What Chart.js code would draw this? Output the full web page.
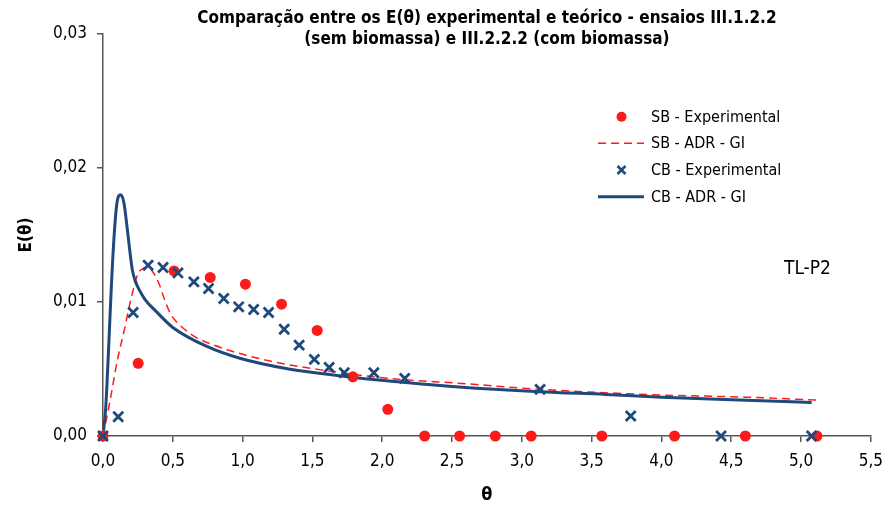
<!DOCTYPE html>
<html>
<head>
<meta charset="UTF-8">
<title>E(θ) experimental e teórico</title>
<style>
  html, body { margin: 0; padding: 0; background: #fff; }
</style>
</head>
<body>
<canvas id="myChart" width="892" height="508"></canvas>

<script src="https://cdn.jsdelivr.net/npm/chart.js@4.4.1/dist/chart.umd.min.js"></script>
<script>
// SB - experimental (sem biomassa)
var sbExpTheta = [0, 0.252, 0.509, 0.768, 1.020, 1.279, 1.534, 1.790, 2.040, 2.304, 2.554, 2.810, 3.067, 3.573, 4.094, 4.601, 5.114];
var sbExpE     = [0, 0.00542, 0.01232, 0.01183, 0.01133, 0.00984, 0.00788, 0.00442, 0.00199, 0, 0, 0, 0, 0, 0, 0, 0];

// CB - experimental (com biomassa)
var cbExpTheta = [0, 0.109, 0.216, 0.323, 0.430, 0.537, 0.651, 0.756, 0.865, 0.972, 1.079, 1.186, 1.298, 1.405, 1.514, 1.620, 1.728, 1.940, 2.161, 3.131, 3.780, 4.427, 5.076];
var cbExpE     = [0, 0.00144, 0.00922, 0.01274, 0.01257, 0.01217, 0.01150, 0.01101, 0.01026, 0.00964, 0.00944, 0.00922, 0.00797, 0.00678, 0.00572, 0.00512, 0.00472, 0.00472, 0.00430, 0.00348, 0.00149, 0, 0];

// SB - ADR - GI (modelo)
var sbAdrTheta = [0, 0.05, 0.10, 0.15, 0.20, 0.25, 0.29, 0.32, 0.36, 0.40, 0.44, 0.48, 0.52, 0.58, 0.66, 0.86, 1.22, 1.57, 2.05, 2.60, 3.13, 4.00, 4.60, 5.114];
var sbAdrE     = [0, 0.0026, 0.0055, 0.0078, 0.0102, 0.0121, 0.0125, 0.0126, 0.0122, 0.0114, 0.0102, 0.0092, 0.0086, 0.0080, 0.0074, 0.00654, 0.00554, 0.00492, 0.0043, 0.0039, 0.00348, 0.00306, 0.0029, 0.00268];

// CB - ADR - GI (modelo)
var cbAdrTheta = [0, 0.02, 0.04, 0.06, 0.08, 0.10, 0.126, 0.15, 0.17, 0.19, 0.21, 0.23, 0.26, 0.30, 0.38, 0.50, 0.74, 0.98, 1.33, 1.69, 2.05, 2.50, 3.13, 3.60, 4.00, 4.50, 5.076];
var cbAdrE     = [0, 0.0022, 0.0065, 0.0112, 0.0150, 0.0174, 0.0180, 0.0174, 0.0158, 0.0140, 0.0124, 0.0116, 0.0109, 0.0102, 0.0093, 0.0081, 0.0067, 0.0058, 0.0050, 0.0045, 0.0041, 0.0037, 0.0033, 0.0031, 0.0029, 0.0027, 0.0025];

var titleLines = ["Comparação entre os E(θ) experimental e teórico - ensaios III.1.2.2",
                  "(sem biomassa) e III.2.2.2 (com biomassa)"];

var RED = "#ff1a1a";
var BLUE = "#1f497d";
var FONT = "'DejaVu Sans Condensed', 'DejaVu Sans', sans-serif";

function zip(xs, ys) {
    var out = [];
    for (var i = 0; i < xs.length; i++) out.push({x: xs[i], y: ys[i]});
    return out;
}

// title, note and legend drawn on the canvas
var extras = {
    id: 'extras',
    afterDraw: function (chart) {
        var ctx = chart.ctx;
        var area = chart.chartArea;
        ctx.save();
        ctx.fillStyle = "#000";
        ctx.textAlign = "center";
        ctx.textBaseline = "middle";
        ctx.font = "bold 17px " + FONT;
        var cx = (area.left + area.right) / 2;
        ctx.fillText(titleLines[0], cx, 19);
        ctx.fillText(titleLines[1], cx, 40);

        ctx.font = "19px " + FONT;
        ctx.textAlign = "left";
        ctx.fillText("TL-P2", 784, 269);

        // legend
        var rows = [116.7, 143.3, 170, 196.7];
        var ds = chart.data.datasets;
        ctx.font = "16px " + FONT;
        for (var i = 0; i < ds.length; i++) {
            var y = rows[i];
            var d = ds[i];
            if (d.showLine) {
                ctx.beginPath();
                ctx.strokeStyle = d.borderColor;
                ctx.lineWidth = d.borderWidth;
                ctx.setLineDash(d.borderDash || []);
                ctx.moveTo(598, y);
                ctx.lineTo(644, y);
                ctx.stroke();
                ctx.setLineDash([]);
            } else if (d.pointStyle === 'circle') {
                ctx.beginPath();
                ctx.fillStyle = d.pointBackgroundColor;
                ctx.arc(621.5, y, 5, 0, Math.PI * 2);
                ctx.fill();
            } else {
                ctx.beginPath();
                ctx.strokeStyle = d.pointBorderColor;
                ctx.lineWidth = 2.5;
                ctx.moveTo(617.5, y - 4); ctx.lineTo(625.5, y + 4);
                ctx.moveTo(617.5, y + 4); ctx.lineTo(625.5, y - 4);
                ctx.stroke();
            }
            ctx.fillStyle = "#000";
            ctx.fillText(d.label, 651, y + 1);
        }
        ctx.restore();
    }
};

var data = {
    datasets: [
        {
            label: "SB - Experimental",
            data: zip(sbExpTheta, sbExpE),
            showLine: false,
            clip: false,
            pointStyle: 'circle',
            pointRadius: 5.5,
            pointBackgroundColor: RED,
            pointBorderColor: RED,
            pointBorderWidth: 0,
            order: 1
        },
        {
            label: "SB - ADR - GI",
            data: zip(sbAdrTheta, sbAdrE),
            showLine: true,
            borderColor: RED,
            borderWidth: 1.5,
            borderDash: [8, 5],
            pointRadius: 0,
            cubicInterpolationMode: 'monotone',
            order: 3
        },
        {
            label: "CB - Experimental",
            data: zip(cbExpTheta, cbExpE),
            showLine: false,
            clip: false,
            pointStyle: 'crossRot',
            pointRadius: 7,
            pointBorderColor: BLUE,
            pointBackgroundColor: BLUE,
            pointBorderWidth: 2.8,
            order: 0
        },
        {
            label: "CB - ADR - GI",
            data: zip(cbAdrTheta, cbAdrE),
            showLine: true,
            borderColor: BLUE,
            borderWidth: 3,
            pointRadius: 0,
            cubicInterpolationMode: 'monotone',
            order: 2
        }
    ]
};

var ctx = document.getElementById("myChart");
var chart = new Chart(ctx, {
    type: 'scatter',
    data: data,
    plugins: [extras],
    options: {
        responsive: false,
        animation: false,
        layout: { padding: { top: 34, right: 18, left: 0, bottom: 0 } },
        plugins: {
            legend: { display: false },
            tooltip: { enabled: false }
        },
        scales: {
            x: {
                type: 'linear',
                min: 0,
                max: 5.5,
                afterFit: function (s) { s.height = 72; },
                ticks: {
                    stepSize: 0.5,
                    color: "#000",
                    padding: 9,
                    font: { family: FONT, size: 17 },
                    callback: function (v) { return v.toFixed(1).replace('.', ','); }
                },
                grid: { drawOnChartArea: false, drawTicks: true, tickLength: 6, color: "#555", lineWidth: 1.5, z: -2 },
                border: { color: "#555", width: 1.5, z: -1 },
                title: {
                    display: true,
                    text: "θ",
                    color: "#000",
                    font: { family: FONT, size: 18, weight: 'bold' },
                    padding: { top: 0, bottom: 2 }
                }
            },
            y: {
                min: 0,
                max: 0.03,
                afterFit: function (s) { s.width = 103; },
                ticks: {
                    stepSize: 0.01,
                    color: "#000",
                    padding: 10,
                    font: { family: FONT, size: 17 },
                    callback: function (v) { return v.toFixed(2).replace('.', ','); }
                },
                grid: { drawOnChartArea: false, drawTicks: true, tickLength: 6, color: "#555", lineWidth: 1.5, z: -2 },
                border: { color: "#555", width: 1.5, z: -1 },
                title: {
                    display: true,
                    text: "E(θ)",
                    color: "#000",
                    font: { family: FONT, size: 17, weight: 'bold' },
                    padding: { top: 16, bottom: 0 }
                }
            }
        }
    }
});
</script>
</body>
</html>
